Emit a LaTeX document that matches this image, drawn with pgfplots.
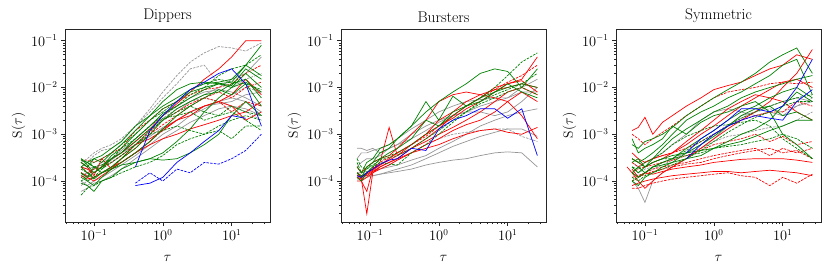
\documentclass[border=0pt]{standalone}
\usepackage{pgfplots}
\usepackage{pgfplotstable}
\pgfplotsset{compat=1.18}
\definecolor{cg}{RGB}{0,128,0}
\definecolor{cr}{RGB}{255,0,0}
\definecolor{cb}{RGB}{0,0,255}
\definecolor{cs}{RGB}{150,150,150}
\tikzset{
 lnG/.style={cg,line width=0.7pt},
 lnGD/.style={cg,line width=0.7pt,dash pattern=on 2.5pt off 1.2pt},
 lnR/.style={cr,line width=0.7pt},
 lnRD/.style={cr,line width=0.7pt,dash pattern=on 2.5pt off 1.2pt},
 lnB/.style={cb,line width=0.7pt},
 lnBD/.style={cb,line width=0.7pt,dash pattern=on 2.5pt off 1.2pt},
 lnS/.style={cs,line width=0.7pt},
 lnSD/.style={cs,line width=0.7pt,dash pattern=on 2.5pt off 1.2pt},
}
\pgfplotsset{
 every axis/.append style={
  scale only axis, width=205pt, height=193pt, anchor=south west,
  xmin=0.038, xmax=36, ymin=1.33e-5, ymax=0.178,
  xtick={0.1,1,10}, ytick={1e-4,1e-3,1e-2,1e-1},
  minor xtick={0.04,0.05,0.06,0.07,0.08,0.09,0.2,0.3,0.4,0.5,0.6,0.7,0.8,0.9,2,3,4,5,6,7,8,9,20,30},
  minor ytick={2e-5,3e-5,4e-5,5e-5,6e-5,7e-5,8e-5,9e-5,2e-4,3e-4,4e-4,5e-4,6e-4,7e-4,8e-4,9e-4,2e-3,3e-3,4e-3,5e-3,6e-3,7e-3,8e-3,9e-3,2e-2,3e-2,4e-2,5e-2,6e-2,7e-2,8e-2,9e-2},
  tick align=outside, tick pos=left,
  major tick length=4pt, minor tick length=2pt,
  every tick/.style={black!85, line width=0.6pt},
  axis line style={black!85, line width=0.9pt},
  tick label style={font=\fontsize{13.5}{15}\selectfont},
  label style={font=\fontsize{13.5}{15}\selectfont},
  title style={font=\fontsize{15.5}{17}\selectfont, yshift=-3pt},
  xlabel={$\tau$}, ylabel={S($\tau$)},
  xlabel style={yshift=-8pt},
  ylabel style={yshift=-1pt},
  unbounded coords=discard,
 }
}
% ---------------- Dippers ----------------
\pgfplotstableread{
name c0 c1 c2 c3 c4 c5 c6 c7 c8 c9 c10 c11 c12 c13 c14 c15
x 0.065 0.08 0.1 0.13 0.18 0.25 0.4 0.65 1 1.6 2.5 4 6.5 10 16 27
s1 1.5e-4 1.3e-4 1.5e-4 2e-4 2.5e-4 3.5e-4 6e-4 1.2e-3 2e-3 3e-3 5e-3 7e-3 1e-2 1.5e-2 2e-2 4.5e-2
s2 1e-4 8e-5 1e-4 1.2e-4 1.6e-4 2.2e-4 3.5e-4 6e-4 1e-3 1.5e-3 2.5e-3 3.5e-3 5e-3 6e-3 5e-3 3e-3
s3 6e-5 7e-5 9e-5 1e-4 1.3e-4 1.8e-4 3e-4 5e-4 8e-4 1.2e-3 1.8e-3 2.5e-3 3.5e-3 4e-3 3.5e-3 2.5e-3
s4 1.3e-4 1.5e-4 1.8e-4 2.5e-4 3e-4 4.5e-4 8e-4 1.5e-3 2.5e-3 4e-3 6e-3 8e-3 9e-3 8e-3 6e-3 4e-3
s5 2e-4 1.8e-4 2e-4 2.2e-4 3e-4 4e-4 6e-4 9e-4 1.4e-3 2e-3 3e-3 4e-3 4.5e-3 5e-3 7e-3 8e-3
sd1 2e-4 2.5e-4 3.5e-4 4.5e-4 5e-4 7e-4 1.5e-3 3.5e-3 8e-3 1.8e-2 3.5e-2 5.5e-2 7.5e-2 7e-2 6e-2 9e-2
sd2 2.5e-4 3e-4 4e-4 5e-4 6e-4 8e-4 1.5e-3 3e-3 6e-3 1.2e-2 2.5e-2 3e-2 1.2e-2 1e-2 1.5e-2 2e-2
sd3 1.2e-4 1.5e-4 1.5e-4 2e-4 2.8e-4 4e-4 7e-4 1.3e-3 2.2e-3 3.5e-3 5e-3 6e-3 5e-3 4e-3 3e-3 2e-3
sd4 8e-5 1e-4 1.2e-4 1.5e-4 1.8e-4 2.5e-4 4e-4 7e-4 1.2e-3 2e-3 3e-3 4e-3 5e-3 7e-3 1e-2 8e-3
r1 2e-4 1.8e-4 1.5e-4 2e-4 3e-4 4e-4 7e-4 1.3e-3 2.5e-3 4.5e-3 8e-3 1.5e-2 2.5e-2 4.5e-2 1e-1 1e-1
r2 1.3e-4 1.1e-4 1.2e-4 1.5e-4 2e-4 2.5e-4 4e-4 7e-4 1.3e-3 2e-3 3e-3 4e-3 5e-3 4e-3 2e-3 3e-3
r3 2.5e-4 2e-4 1.3e-4 3e-4 1.8e-4 3e-4 6e-4 8e-4 1.2e-3 2e-3 2.5e-3 4e-3 5e-3 7e-3 1.5e-2 7e-3
r4 1.5e-4 1.2e-4 1e-4 1.3e-4 1.8e-4 2.5e-4 4e-4 6e-4 8e-4 1e-3 1.3e-3 1.6e-3 2e-3 2.5e-3 3e-3 5e-3
rd1 2.8e-4 2.8e-4 2.5e-4 3e-4 4e-4 5e-4 1.2e-3 2e-3 3.5e-3 5e-3 7e-3 9e-3 1e-2 1.2e-2 2e-2 3e-2
rd2 1.5e-4 1.3e-4 1.2e-4 1.5e-4 2e-4 3e-4 5e-4 1e-3 1.6e-3 2.5e-3 4e-3 6e-3 8e-3 6e-3 1e-2 1.3e-2
rd3 2e-4 1.5e-4 1.8e-4 2e-4 2.5e-4 3.5e-4 6e-4 1.1e-3 2e-3 3e-3 4.5e-3 6e-3 5e-3 3e-3 5e-3 4e-3
g1 2.5e-4 2e-4 3e-4 2.5e-4 4e-4 6e-4 1.2e-3 2.5e-3 4e-3 6e-3 9e-3 1.2e-2 1.3e-2 1.5e-2 3e-2 8e-2
g2 3e-4 2.2e-4 1.5e-4 2e-4 3.5e-4 5e-4 1e-3 2e-3 3.5e-3 5e-3 8e-3 1e-2 1.2e-2 1.1e-2 2.5e-2 1.5e-2
g3 1.5e-4 1.2e-4 2e-4 1.8e-4 3e-4 4e-4 8e-4 1.5e-3 2.8e-3 4e-3 6e-3 9e-3 1.2e-2 1e-2 2e-2 1e-2
g4 2e-4 1.5e-4 1.1e-4 1.5e-4 2e-4 3e-4 5e-4 1e-3 2e-3 3.5e-3 5e-3 7e-3 8e-3 1.2e-2 1.5e-2 6e-3
g5 1.2e-4 1e-4 8e-5 1.2e-4 1.8e-4 2.5e-4 4e-4 7e-4 1.3e-3 2.5e-3 4e-3 6e-3 9e-3 7e-3 1.2e-2 4e-3
g6 2.8e-4 2.5e-4 2e-4 1.5e-4 1.8e-4 2.2e-4 2.5e-4 3e-4 4e-4 7e-4 1.3e-3 3e-3 6e-3 1e-2 1.3e-2 8e-3
g7 9e-5 8e-5 6e-5 1e-4 1.2e-4 1.8e-4 2.5e-4 3e-4 2.8e-4 3e-4 4e-4 6e-4 1e-3 2.5e-3 5e-3 2.5e-3
g8 2e-4 2.5e-4 3e-4 3.5e-4 5e-4 7e-4 1.5e-3 2.5e-3 5e-3 9e-3 1.2e-2 1.3e-2 1.2e-2 1.3e-2 3e-2 1.8e-2
gd1 5e-5 7e-5 8e-5 1e-4 1.2e-4 1.5e-4 2e-4 2.5e-4 3.5e-4 6e-4 8e-4 1e-3 1.2e-3 8e-4 1.5e-3 1.5e-3
gd2 1.5e-4 1e-4 1.2e-4 1.5e-4 2e-4 3e-4 6e-4 1e-3 1.2e-3 1.5e-3 1.2e-3 1e-3 1.5e-3 2e-3 2.5e-3 2e-3
gd3 2.5e-4 2e-4 2.5e-4 3e-4 4e-4 6e-4 1e-3 2e-3 3e-3 5e-3 9e-3 1.2e-2 1.5e-2 1.3e-2 1.2e-2 9e-3
gd4 1.8e-4 1.5e-4 1.2e-4 1.8e-4 2.5e-4 3.5e-4 6e-4 1.2e-3 2e-3 3e-3 4e-3 3e-3 2.5e-3 3e-3 2e-3 1.2e-3
gd5 1e-4 1.2e-4 1.5e-4 2e-4 3e-4 5e-4 8e-4 1.5e-3 2.5e-3 4e-3 7e-3 1e-2 1.8e-2 2.5e-2 3e-2 5e-2
gd6 3e-4 2.5e-4 2e-4 2.2e-4 3e-4 4e-4 7e-4 1.3e-3 2.2e-3 2.5e-3 3e-3 2e-3 2.5e-3 4e-3 3e-3 2.5e-3
b1 nan nan nan nan nan nan 2e-4 1.2e-3 2.5e-3 5e-3 9e-3 1.3e-2 2e-2 2.5e-2 1.2e-2 1.5e-3
b2 nan nan nan nan nan nan 8e-5 9e-5 1.2e-4 2.5e-4 4e-4 7e-4 1.2e-3 2.5e-3 2.2e-3 nan
bd1 nan nan nan nan nan nan 9e-5 1.5e-4 1e-4 1.8e-4 1.5e-4 2.5e-4 2.3e-4 3e-4 4.5e-4 1e-3
}\dipraw
\pgfplotstabletranspose[colnames from=name]\dip\dipraw
% ---------------- Bursters ----------------
\pgfplotstableread{
name c0 c1 c2 c3 c4 c5 c6 c7 c8 c9 c10 c11 c12 c13 c14 c15 c16
x 0.065 0.075 0.09 0.11 0.14 0.19 0.25 0.4 0.65 1 1.6 2.5 4 6.5 10 16 27
s1 1.2e-4 1.2e-4 1.3e-4 1.3e-4 1.4e-4 1.5e-4 1.6e-4 1.8e-4 2.2e-4 2.5e-4 2.8e-4 3e-4 3.5e-4 4e-4 4.2e-4 4e-4 2e-4
s2 1.1e-4 1.1e-4 1.2e-4 1.3e-4 1.4e-4 1.6e-4 1.8e-4 2.2e-4 3e-4 4e-4 5.5e-4 7e-4 9e-4 1.1e-3 1.3e-3 1.3e-3 9e-4
s3 5e-4 5e-4 4.5e-4 5e-4 4e-4 5e-4 6e-4 8e-4 1.2e-3 1.8e-3 2.5e-3 3e-3 4e-3 5e-3 6e-3 1e-2 1.5e-2
s4 3e-4 4e-4 4e-4 4.5e-4 5e-4 6e-4 8e-4 1.3e-3 2e-3 3e-3 4e-3 5e-3 5.5e-3 6e-3 6e-3 8e-3 8e-3
s5 2e-4 2.5e-4 3e-4 3e-4 3.5e-4 5e-4 6e-4 1e-3 1.5e-3 2e-3 2.5e-3 3e-3 3e-3 2.5e-3 3e-3 5e-3 1e-2
s6 1.5e-4 1.5e-4 1.6e-4 1.7e-4 1.8e-4 2e-4 2.2e-4 2.8e-4 3.5e-4 5e-4 7e-4 1e-3 1.5e-3 2e-3 2.5e-3 3e-3 3.5e-3
sd1 1.2e-4 1.2e-4 1.4e-4 1.6e-4 1.8e-4 2.2e-4 2.8e-4 4e-4 6e-4 8e-4 1e-3 1.1e-3 1.2e-3 1.3e-3 1.3e-3 9e-4 7e-4
r1 1.5e-4 1.1e-4 2e-5 1.5e-4 2e-4 2.5e-4 3e-4 5e-4 8e-4 1.3e-3 2.5e-3 4e-3 6e-3 1e-2 1.2e-2 1.5e-2 4.5e-2
r2 1.2e-4 1e-4 6e-5 1.8e-4 2.5e-4 1.4e-3 3.5e-4 6e-4 1e-3 2e-3 3e-3 5e-3 7e-3 9e-3 1e-2 1.2e-2 1e-2
r3 2e-4 1.5e-4 2e-4 2.5e-4 3e-4 3.5e-4 5e-4 1e-3 2e-3 5e-3 7e-3 8e-3 7e-3 6e-3 5e-3 2.5e-3 8e-4
r4 1.3e-4 1.2e-4 1.5e-4 1.8e-4 2.2e-4 2.8e-4 3.5e-4 5e-4 7e-4 1e-3 1.4e-3 2e-3 3e-3 5e-3 8e-3 1e-2 7e-3
r5 1e-4 1e-4 1.2e-4 1.5e-4 1.8e-4 2.2e-4 2.8e-4 4e-4 6e-4 8e-4 1.2e-3 1.6e-3 2e-3 3e-3 5e-3 8e-3 5e-3
r6 1.5e-4 1.3e-4 1.3e-4 1.6e-4 2e-4 2.5e-4 3e-4 4e-4 5e-4 6e-4 8e-4 1e-3 1.2e-3 1.3e-3 1.1e-3 1e-3 1.4e-3
r7 1.2e-4 1.1e-4 1.4e-4 1.7e-4 2.2e-4 3e-4 4e-4 6e-4 1e-3 1.5e-3 2.2e-3 3.5e-3 5e-3 8e-3 1.2e-2 1.4e-2 8e-3
rd1 1.3e-4 1.2e-4 1.5e-4 1.9e-4 2.5e-4 3.2e-4 4e-4 6e-4 9e-4 1.5e-3 2.5e-3 4e-3 6e-3 9e-3 1.3e-2 1.8e-2 3e-2
g1 1.5e-4 1.2e-4 2e-4 2.5e-4 4e-4 5e-4 8e-4 1.5e-3 3e-3 5e-3 8e-3 1.2e-2 2e-2 2.5e-2 2.2e-2 1e-2 2.5e-2
g2 2e-4 1.5e-4 2.5e-4 3e-4 5e-4 6e-4 8e-4 1.5e-3 5e-3 2e-3 6.5e-3 4e-3 6e-3 8e-3 1.2e-2 8e-3 6e-3
g3 1.2e-4 1e-4 1.5e-4 2e-4 3e-4 4e-4 5e-4 8e-4 2e-3 1.5e-3 3e-3 4e-3 5e-3 8e-3 1e-2 1.2e-2 1e-2
gd1 3e-4 2e-4 1.8e-4 2.5e-4 3e-4 3.5e-4 4e-4 6e-4 1e-3 1.5e-3 2.5e-3 4e-3 6e-3 1e-2 1.8e-2 3.5e-2 5.5e-2
gd2 2.5e-4 1.5e-4 1.8e-4 2.2e-4 2.8e-4 3.2e-4 3.5e-4 5e-4 8e-4 1.2e-3 2e-3 3e-3 4.5e-3 6e-3 8e-3 1e-2 7e-3
gd3 1.5e-4 1.3e-4 1.5e-4 2e-4 2.5e-4 2.3e-4 2.2e-4 4e-4 6e-4 1e-3 1.8e-3 3e-3 5e-3 7e-3 9e-3 1.2e-2 2e-2
b1 1.3e-4 1.2e-4 1.5e-4 1.8e-4 2.3e-4 2.8e-4 3e-4 5e-4 4.5e-4 1.3e-3 2e-3 2.5e-3 3.5e-3 3.5e-3 2.2e-3 3.5e-3 3.5e-4
}\burraw
\pgfplotstabletranspose[colnames from=name]\bur\burraw
% ---------------- Symmetric ----------------
\pgfplotstableread{
name c0 c1 c2 c3 c4 c5 c6 c7 c8 c9 c10 c11 c12 c13 c14 c15 c16
x 0.055 0.065 0.08 0.1 0.13 0.18 0.25 0.4 0.65 1 1.6 2.5 4 6.5 10 16 27
s1 nan 1e-4 7e-5 3.5e-5 1e-4 1.5e-4 2e-4 3e-4 5e-4 8e-4 1.5e-3 2.5e-3 3e-3 4e-3 5e-3 6e-3 5e-3
s2 nan 2.5e-4 2e-4 2.5e-4 3e-4 4e-4 6e-4 1e-3 2e-3 3e-3 3.5e-3 3e-3 2.5e-3 3e-3 2.5e-3 4e-3 5e-3
sd1 nan 1.5e-4 1.3e-4 1.5e-4 1.8e-4 2.2e-4 2.8e-4 4e-4 6e-4 1e-3 1.6e-3 2.2e-3 3e-3 3.5e-3 3e-3 4e-3 6e-3
sd2 nan 2e-4 1.5e-4 1.8e-4 2e-4 2.5e-4 3e-4 4e-4 5e-4 7e-4 9e-4 1e-3 1.2e-3 1.4e-3 1.5e-3 2e-3 3e-3
r1 nan 1.2e-3 1.4e-3 2.3e-3 1e-3 1.8e-3 2.5e-3 4e-3 6e-3 9e-3 1.1e-2 1.3e-2 1.8e-2 2.5e-2 3e-2 5e-2 4e-2
r2 nan 3e-4 2.5e-4 2e-4 2.5e-4 3e-4 4e-4 6e-4 1e-3 1.5e-3 2.5e-3 4e-3 6e-3 9e-3 1.3e-2 1.5e-2 1e-2
r3 2e-4 1.5e-4 1e-4 7e-5 1e-4 1.5e-4 2e-4 3e-4 5e-4 8e-4 1.3e-3 2e-3 3e-3 5e-3 1e-2 2e-2 6.5e-2
r4 nan 1.8e-4 1.2e-4 1.5e-4 1.4e-4 1.6e-4 1.8e-4 2e-4 2.2e-4 2.5e-4 2.7e-4 2.9e-4 3e-4 3e-4 3e-4 2.8e-4 2.5e-4
r5 nan 8e-5 9e-5 1e-4 1.1e-4 1.2e-4 1.3e-4 1.4e-4 1.5e-4 1.6e-4 1.6e-4 1.5e-4 1.6e-4 1.7e-4 1.6e-4 1.5e-4 1.3e-4
r6 nan 4e-4 3e-4 2.5e-4 3e-4 3.5e-4 4e-4 7e-4 1.2e-3 2e-3 3.5e-3 5e-3 7e-3 6e-3 5e-3 3e-3 2e-3
rd1 nan 1e-3 8e-4 6e-4 8e-4 1.1e-3 1.5e-3 2.5e-3 4e-3 6e-3 8e-3 9e-3 1e-2 1.2e-2 1.3e-2 1.2e-2 1.3e-2
rd2 nan 7e-5 7e-5 8e-5 9e-5 1e-4 1.1e-4 1.2e-4 1.3e-4 1.4e-4 1.5e-4 1.3e-4 1.2e-4 8e-5 1.2e-4 9e-5 1.4e-4
rd3 nan 1.2e-4 1.3e-4 1.5e-4 1.8e-4 2e-4 2.2e-4 2.5e-4 3e-4 3.5e-4 4e-4 4.5e-4 5e-4 3.5e-4 5e-4 4e-4 5e-4
rd4 nan 1.5e-4 1.8e-4 2e-4 2.2e-4 2.5e-4 2.8e-4 3.5e-4 4.5e-4 6e-4 7e-4 8e-4 1e-3 7e-4 9e-4 6e-4 7e-4
rd5 nan 2.5e-4 2e-4 2.5e-4 3e-4 3.5e-4 4e-4 5e-4 7e-4 1e-3 1.5e-3 2e-3 2.5e-3 3e-3 3e-3 5e-3 4e-3
rd6 nan 1e-4 1.2e-4 1.4e-4 1.6e-4 1.8e-4 2e-4 2.3e-4 2.5e-4 3e-4 3.5e-4 4e-4 4.5e-4 5e-4 4e-4 4.5e-4 3e-4
g1 nan 6e-4 5e-4 7e-4 8e-4 1e-3 1.4e-3 2.5e-3 4e-3 6e-3 9e-3 1.3e-2 2e-2 3.5e-2 5e-2 7e-2 2e-2
g2 nan 3e-4 2.5e-4 3e-4 4e-4 6e-4 1e-3 2e-3 3e-3 4e-3 6e-3 8e-3 1.2e-2 1.8e-2 3e-2 4e-2 7e-3
g3 nan 2e-4 1.5e-4 2e-4 3e-4 5e-4 8e-4 1.3e-3 2e-3 3e-3 4e-3 6e-3 8e-3 1e-2 1.2e-2 1.5e-2 1.8e-2
g4 nan 1.5e-4 1.2e-4 1.5e-4 2e-4 2.5e-4 3e-4 5e-4 8e-4 1.2e-3 2e-3 3e-3 4e-3 6e-3 8e-3 1e-2 6e-3
g5 nan 1e-4 8e-5 1.2e-4 1.5e-4 2e-4 2.5e-4 4e-4 6e-4 9e-4 1.5e-3 2.5e-3 3.5e-3 4e-3 2.5e-3 3e-3 2e-3
g6 nan 8e-4 4e-4 5e-4 6e-4 8e-4 1.5e-3 1e-3 1.8e-3 2.5e-3 3e-3 4e-3 5e-3 3e-3 1e-3 6e-4 3e-4
g7 nan 2.5e-4 3e-4 2e-4 2.5e-4 3e-4 3.5e-4 4e-4 4.5e-4 5e-4 7e-4 1e-3 1.3e-3 2e-3 4e-3 8e-3 5e-3
g8 nan 1.5e-4 2e-4 1.5e-4 2e-4 2.2e-4 2.5e-4 3e-4 3.5e-4 5e-4 6e-4 7e-4 9e-4 1.2e-3 1.5e-3 2e-3 2e-3
gd1 nan 1e-4 1.2e-4 1.5e-4 2e-4 2.5e-4 3e-4 4.5e-4 7e-4 1e-3 1.5e-3 2.2e-3 3e-3 4e-3 5e-3 6e-3 7e-3
gd2 nan 2e-4 1.8e-4 2.5e-4 3e-4 4e-4 6e-4 9e-4 1.2e-3 1.5e-3 1.6e-3 1.8e-3 2e-3 1.5e-3 8e-4 5e-4 3e-4
gd3 nan 3e-4 2.5e-4 2e-4 2.5e-4 3e-4 3e-4 3.5e-4 4e-4 5e-4 5.5e-4 6e-4 7e-4 8e-4 1e-3 8e-4 5e-4
gd4 nan 1.2e-4 1e-4 1.3e-4 1.5e-4 1.8e-4 2.2e-4 3e-4 4.5e-4 7e-4 1.1e-3 1.6e-3 2.3e-3 3e-3 4e-3 5e-3 5e-3
b1 nan nan nan nan nan nan nan 4e-4 8e-4 1.2e-3 2e-3 3.5e-3 3.5e-3 3e-3 4e-3 1e-2 4e-2
b2 nan nan nan nan nan nan nan 3e-4 6e-4 1e-3 1.5e-3 2e-3 2.5e-3 2.2e-3 2e-3 5e-3 9e-3
}\symraw
\pgfplotstabletranspose[colnames from=name]\sym\symraw
\begin{document}
\begin{tikzpicture}
\path[use as bounding box] (0,0) rectangle (831pt,271pt);
% Dippers
\begin{loglogaxis}[at={(65pt,49pt)}, title={Dippers}]
\addplot[lnS] table[x=x,y=s1]{\dip};
\addplot[lnS] table[x=x,y=s2]{\dip};
\addplot[lnS] table[x=x,y=s3]{\dip};
\addplot[lnS] table[x=x,y=s4]{\dip};
\addplot[lnS] table[x=x,y=s5]{\dip};
\addplot[lnSD] table[x=x,y=sd1]{\dip};
\addplot[lnSD] table[x=x,y=sd2]{\dip};
\addplot[lnSD] table[x=x,y=sd3]{\dip};
\addplot[lnSD] table[x=x,y=sd4]{\dip};
\addplot[lnR] table[x=x,y=r1]{\dip};
\addplot[lnR] table[x=x,y=r2]{\dip};
\addplot[lnR] table[x=x,y=r3]{\dip};
\addplot[lnR] table[x=x,y=r4]{\dip};
\addplot[lnRD] table[x=x,y=rd1]{\dip};
\addplot[lnRD] table[x=x,y=rd2]{\dip};
\addplot[lnRD] table[x=x,y=rd3]{\dip};
\addplot[lnGD] table[x=x,y=gd1]{\dip};
\addplot[lnGD] table[x=x,y=gd2]{\dip};
\addplot[lnGD] table[x=x,y=gd3]{\dip};
\addplot[lnGD] table[x=x,y=gd4]{\dip};
\addplot[lnGD] table[x=x,y=gd5]{\dip};
\addplot[lnGD] table[x=x,y=gd6]{\dip};
\addplot[lnG] table[x=x,y=g1]{\dip};
\addplot[lnG] table[x=x,y=g2]{\dip};
\addplot[lnG] table[x=x,y=g3]{\dip};
\addplot[lnG] table[x=x,y=g4]{\dip};
\addplot[lnG] table[x=x,y=g5]{\dip};
\addplot[lnG] table[x=x,y=g6]{\dip};
\addplot[lnG] table[x=x,y=g7]{\dip};
\addplot[lnG] table[x=x,y=g8]{\dip};
\addplot[lnB] table[x=x,y=b1]{\dip};
\addplot[lnB] table[x=x,y=b2]{\dip};
\addplot[lnBD] table[x=x,y=bd1]{\dip};
\end{loglogaxis}
% Bursters
\begin{loglogaxis}[at={(341pt,49pt)}, title={Bursters}]
\addplot[lnS] table[x=x,y=s1]{\bur};
\addplot[lnS] table[x=x,y=s2]{\bur};
\addplot[lnS] table[x=x,y=s3]{\bur};
\addplot[lnS] table[x=x,y=s4]{\bur};
\addplot[lnS] table[x=x,y=s5]{\bur};
\addplot[lnS] table[x=x,y=s6]{\bur};
\addplot[lnSD] table[x=x,y=sd1]{\bur};
\addplot[lnR] table[x=x,y=r1]{\bur};
\addplot[lnR] table[x=x,y=r2]{\bur};
\addplot[lnR] table[x=x,y=r3]{\bur};
\addplot[lnR] table[x=x,y=r4]{\bur};
\addplot[lnR] table[x=x,y=r5]{\bur};
\addplot[lnR] table[x=x,y=r6]{\bur};
\addplot[lnR] table[x=x,y=r7]{\bur};
\addplot[lnRD] table[x=x,y=rd1]{\bur};
\addplot[lnGD] table[x=x,y=gd1]{\bur};
\addplot[lnGD] table[x=x,y=gd2]{\bur};
\addplot[lnGD] table[x=x,y=gd3]{\bur};
\addplot[lnG] table[x=x,y=g1]{\bur};
\addplot[lnG] table[x=x,y=g2]{\bur};
\addplot[lnG] table[x=x,y=g3]{\bur};
\addplot[lnB] table[x=x,y=b1]{\bur};
\end{loglogaxis}
% Symmetric
\begin{loglogaxis}[at={(616pt,49pt)}, title={Symmetric}]
\addplot[lnS] table[x=x,y=s1]{\sym};
\addplot[lnS] table[x=x,y=s2]{\sym};
\addplot[lnSD] table[x=x,y=sd1]{\sym};
\addplot[lnSD] table[x=x,y=sd2]{\sym};
\addplot[lnRD] table[x=x,y=rd1]{\sym};
\addplot[lnRD] table[x=x,y=rd2]{\sym};
\addplot[lnRD] table[x=x,y=rd3]{\sym};
\addplot[lnRD] table[x=x,y=rd4]{\sym};
\addplot[lnRD] table[x=x,y=rd5]{\sym};
\addplot[lnRD] table[x=x,y=rd6]{\sym};
\addplot[lnR] table[x=x,y=r1]{\sym};
\addplot[lnR] table[x=x,y=r2]{\sym};
\addplot[lnR] table[x=x,y=r3]{\sym};
\addplot[lnR] table[x=x,y=r4]{\sym};
\addplot[lnR] table[x=x,y=r5]{\sym};
\addplot[lnR] table[x=x,y=r6]{\sym};
\addplot[lnGD] table[x=x,y=gd1]{\sym};
\addplot[lnGD] table[x=x,y=gd2]{\sym};
\addplot[lnGD] table[x=x,y=gd3]{\sym};
\addplot[lnGD] table[x=x,y=gd4]{\sym};
\addplot[lnG] table[x=x,y=g1]{\sym};
\addplot[lnG] table[x=x,y=g2]{\sym};
\addplot[lnG] table[x=x,y=g3]{\sym};
\addplot[lnG] table[x=x,y=g4]{\sym};
\addplot[lnG] table[x=x,y=g5]{\sym};
\addplot[lnG] table[x=x,y=g6]{\sym};
\addplot[lnG] table[x=x,y=g7]{\sym};
\addplot[lnG] table[x=x,y=g8]{\sym};
\addplot[lnB] table[x=x,y=b1]{\sym};
\addplot[lnB] table[x=x,y=b2]{\sym};
\end{loglogaxis}
\end{tikzpicture}
\end{document}
